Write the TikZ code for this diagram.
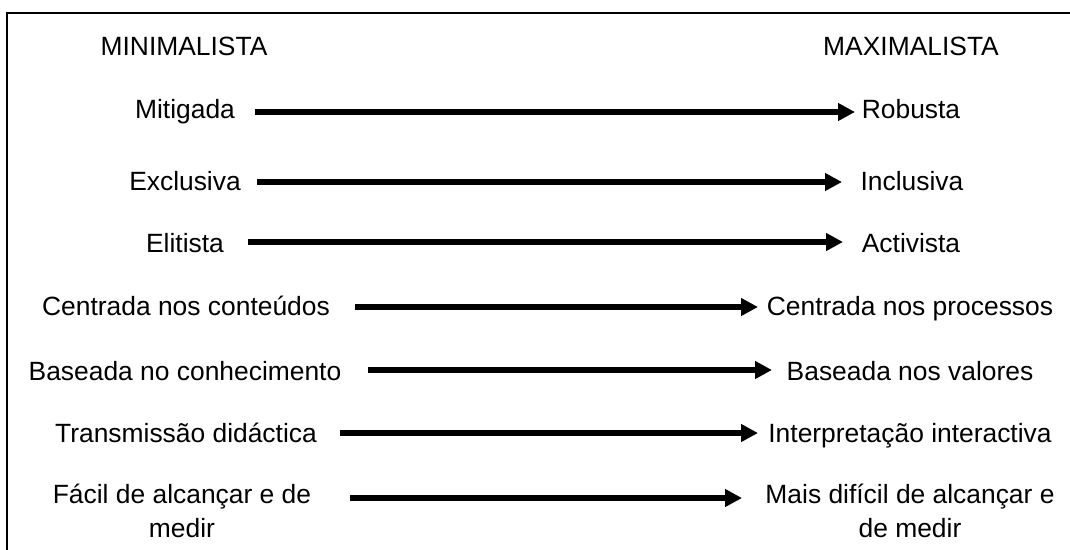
\documentclass[tikz,border=0pt]{standalone}
\usepackage{fontspec}
\setmainfont{Liberation Sans}
\usetikzlibrary{arrows.meta}
\begin{document}
\begin{tikzpicture}[x=1pt,y=-1pt,
  lbl/.style={anchor=base,inner sep=0pt,align=center,font=\fontsize{26.4}{33.7}\selectfont},
  arr/.style={line width=5.5pt,-{Triangle[length=17pt,width=17pt]}},
  frame/.style={line width=2.6pt}]
\useasboundingbox (0,0) rectangle (1070,549);
\clip (0,0) rectangle (1070,549);
\draw[frame] (7,600) -- (7,13) -- (1100,13);
% headers
\node[lbl] (hmin) at (184,55) {MINIMALISTA};
\node[lbl] (hmax) at (911,55) {MAXIMALISTA};
% left labels
\node[lbl] (l1) at (185,118) {Mitigada};
\node[lbl] (l2) at (185,190) {Exclusiva};
\node[lbl] (l3) at (185,252) {Elitista};
\node[lbl] (l4) at (186,315) {Centrada nos conteúdos};
\node[lbl] (l5) at (185,380) {Baseada no conhecimento};
\node[lbl] (l6) at (186,442) {Transmissão didáctica};
\node[lbl] (l7) at (182,537) {Fácil de alcançar e de\\medir};
% right labels
\node[lbl] (r1) at (911,118) {Robusta};
\node[lbl] (r2) at (912,190) {Inclusiva};
\node[lbl] (r3) at (911,252) {Activista};
\node[lbl] (r4) at (910,315) {Centrada nos processos};
\node[lbl] (r5) at (910,380) {Baseada nos valores};
\node[lbl] (r6) at (910,442) {Interpretação interactiva};
\node[lbl] (r7) at (910,537) {Mais difícil de alcançar e\\de medir};
% arrow endpoints
\coordinate (s1) at (255,112); \coordinate (e1) at (855,112);
\coordinate (s2) at (257,182); \coordinate (e2) at (842,182);
\coordinate (s3) at (248,242); \coordinate (e3) at (843,242);
\coordinate (s4) at (355,307); \coordinate (e4) at (758,307);
\coordinate (s5) at (368,370); \coordinate (e5) at (772,370);
\coordinate (s6) at (340,433); \coordinate (e6) at (758,433);
\coordinate (s7) at (350,498); \coordinate (e7) at (742,498);
\foreach \i in {1,...,7}{\draw[arr] (s\i) -- (e\i);}
\end{tikzpicture}
\end{document}
